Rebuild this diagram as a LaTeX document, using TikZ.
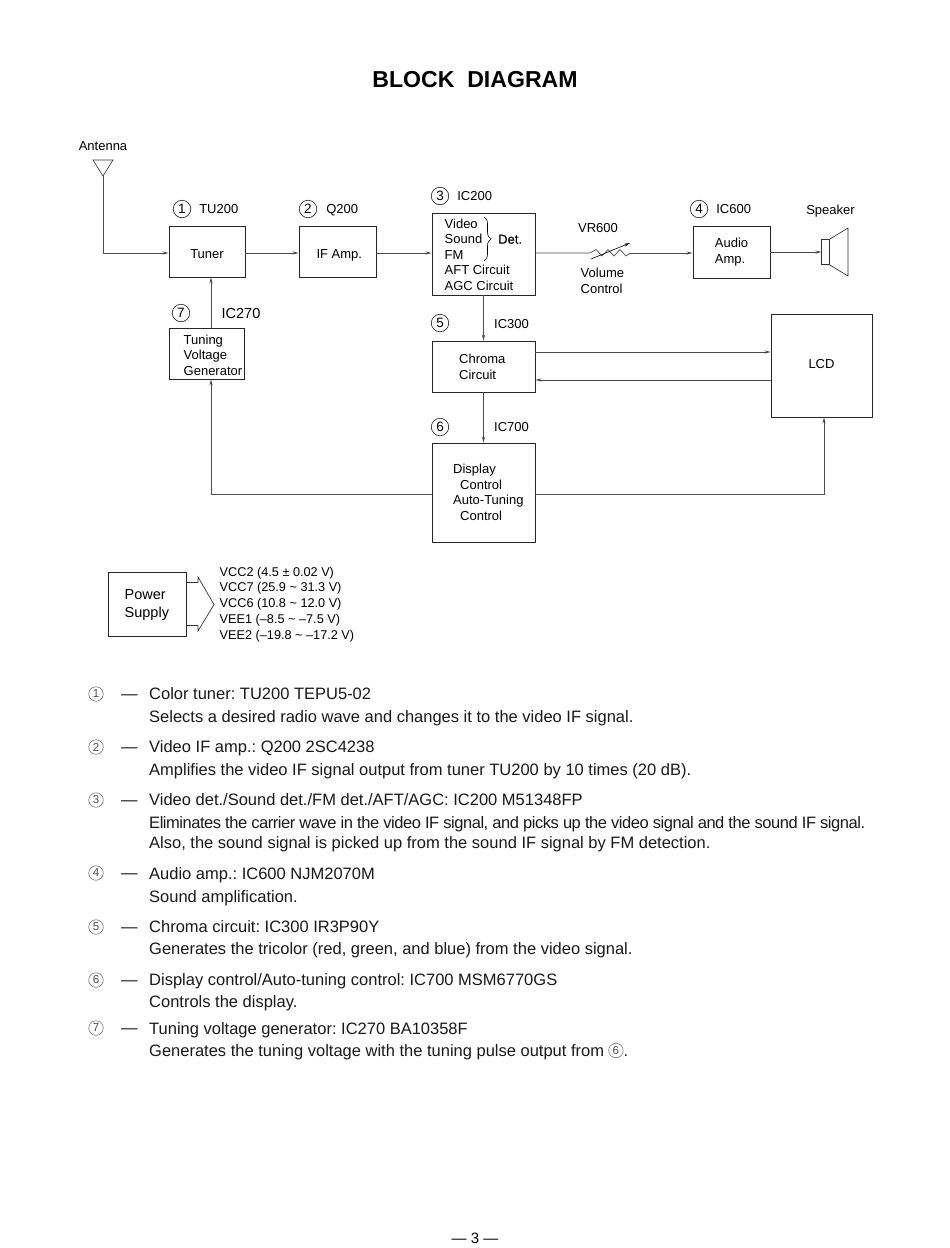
\documentclass[tikz,border=0pt]{standalone}
\usepackage{fontspec}
\setmainfont{Liberation Sans}
\usepackage{tikz}
\usetikzlibrary{positioning, arrows.meta, decorations.pathreplacing}

\begin{document}
\begin{tikzpicture}[
        x=1pt, y=-1pt,
        box/.style = {draw=black!85, rectangle, line width=0.9pt, inner sep=0pt, align=left, font=\fontsize{13}{15.5}\selectfont},
        lowtext/.style = {text height=14pt, text depth=0pt},
        lbl/.style = {inner sep=0pt, align=left, font=\fontsize{13}{15.5}\selectfont},
        tag/.style = {lbl, text height=9.4pt, text depth=0pt},
        num/.style = {draw=black!80, circle, line width=0.7pt, inner sep=0pt, minimum size=17.5pt, font=\fontsize{13.5}{15}\selectfont},
        listnum/.style = {draw=black!55, circle, line width=0.6pt, inner sep=0pt, minimum size=14.5pt, text=black!70, font=\fontsize{11.5}{12}\selectfont},
        txt/.style = {anchor=base west, inner sep=0pt, text=black!90, font=\fontsize{16.5}{18}\selectfont\frenchspacing},
        arrow/.style = {-{Stealth[length=6pt, width=3.2pt]}, line width=0.7pt, draw=black!70},
        wire/.style = {line width=0.7pt, draw=black!70}
      ]
      \useasboundingbox (0,0) rectangle (950,1248);

      % ================= TITLE =================
      \node[inner sep=0pt, font=\bfseries\fontsize{23.1}{26}\selectfont] (title) at (475,80) {BLOCK\ \ DIAGRAM};

      % ================= BLOCKS =================
      \node[box, lowtext, minimum width=76pt, minimum height=51pt] (tuner) at (207,251.5) {Tuner};
      \node[box, lowtext, minimum width=77pt, minimum height=51pt] (ifamp) at (337.5,251.5) {\ IF Amp.};
      \node[box, minimum width=103pt, minimum height=82pt] (ic200) at (483.5,254) {};
      \node[box, minimum width=77pt, minimum height=52pt] (audio) at (731.5,252) {Audio\\Amp.};
      \node[box, minimum width=75pt, minimum height=51pt] (tvg) at (206.5,353.5) {};
      \node[box, minimum width=103pt, minimum height=51pt] (chroma) at (483.5,366.5) {};
      \node[box, minimum width=103pt, minimum height=99pt] (display) at (483.5,492.5) {};
      \node[box, text height=9.4pt, text depth=4pt, minimum width=101pt, minimum height=103pt] (lcd) at (821.5,365.5) {LCD};
      \node[box, minimum width=78pt, minimum height=64pt] (power) at (147,604) {};

      % Text of the blocks
      \node[lbl, anchor=west] (tvgtext) at (183.5,355) {Tuning\\Voltage\\Generator};
      \node[lbl, anchor=west] (ic200text) at (444.5,254.5) {Video\\Sound\\FM\\AFT Circuit\\AGC Circuit};
      \node[tag, anchor=west] (det) at (498,239) {\addfontfeature{FakeBold=0.6}Det.};
      \node[lbl, anchor=west] (chromatext) at (459,367) {Chroma\\Circuit};
      \node[lbl, anchor=west] (displaytext) at (453,492.5) {Display\\\hspace{7pt}Control\\Auto-Tuning\\\hspace{7pt}Control};
      \node[lbl, anchor=west, font=\fontsize{14.5}{18.5}\selectfont] (powertext) at (124.5,605) {Power\\Supply};
      \draw[line width=0.6pt, decorate, decoration={brace, amplitude=7pt}] (484,217) -- (484,261);

      % ================= LABELS =================
      \node[num] (n1) at (182,209) {1};
      \node[tag, right=8pt of n1] (tu200) {TU200};
      \node[num] (n2) at (308,209) {2};
      \node[tag, right=9pt of n2] (q200) {Q200};
      \node[num] (n3) at (440,196) {3};
      \node[tag, right=8pt of n3] (ic200lbl) {IC200};
      \node[num] (n4) at (699,209) {4};
      \node[tag, right=8pt of n4] (ic600) {IC600};
      \node[num] (n5) at (440,323) {5};
      \node[tag] (ic300) at (511.5,324) {IC300};
      \node[num] (n6) at (440,427) {6};
      \node[tag] (ic700) at (511.5,427) {IC700};
      \node[num] (n7) at (181,313) {7};
      \node[lbl, font=\fontsize{14.5}{16}\selectfont] (ic270) at (241,314) {IC270};
      \node[tag] (antenna) at (103,145.5) {Antenna};
      \node[tag] (speaker) at (830.5,210) {Speaker};
      \node[tag] (vr600) at (598,228) {VR600};
      \node[lbl, anchor=west] (volume) at (580.5,281) {Volume\\Control};

      % ================= ANTENNA =================
      \coordinate (ant) at (103,176);
      \draw[line width=0.6pt, draw=black!80] (93,160) -- (113,160) -- (ant) -- cycle;
      \draw[arrow] (ant) |- ([yshift=-1.5pt]tuner.west);

      % ================= SIGNAL PATH =================
      \draw[arrow] ([yshift=-1.5pt]tuner.east) -- ([yshift=-1.5pt]ifamp.west);
      \draw[arrow] ([yshift=-1.5pt]ifamp.east) -- ([yshift=-1.5pt]ifamp.east -| ic200.west);
      \draw[arrow] ([xshift=4.5pt]tvg.north) -- ([xshift=4.5pt]tvg.north |- tuner.south);

      % Volume control
      \coordinate (vrin) at (590,253);
      \coordinate (vrout) at (630,253);
      \draw[wire] (ic200.east |- vrin) -- (vrin) -- (596,249.5) -- (602,256) -- (608,249.5) -- (614,256) -- (620,249.5) -- (626,256) -- (vrout);
      \draw[arrow] (vrout) -- (vrout -| audio.west);
      \draw[-{Stealth[length=6pt, width=3pt]}, line width=0.6pt] (591,259) -- (630,243);

      % Speaker
      \node[draw=black!80, rectangle, line width=0.7pt, inner sep=0pt, minimum width=7.5pt, minimum height=25pt] (spk) at (825.5,252) {};
      \draw[line width=0.7pt, draw=black!80] (spk.north east) -- (848,228) -- (848,276) -- (spk.south east);
      \draw[arrow] (audio.east) -- (spk.west);

      % Chroma and display
      \draw[arrow] (ic200.south) -- (chroma.north);
      \draw[arrow] (chroma.south) -- (display.north);
      \draw[arrow] ([yshift=14.5pt]chroma.east) -- ([yshift=14.5pt]chroma.east -| lcd.west);
      \draw[arrow] ([yshift=-13.5pt]chroma.east -| lcd.west) -- ([yshift=-13.5pt]chroma.east);
      \draw[arrow] ([yshift=-2pt]display.west) -| ([xshift=4.5pt]tvg.south);
      \draw[arrow] ([yshift=-2pt]display.east) -| ([xshift=2.5pt]lcd.south);

      % ================= POWER SUPPLY =================
      \coordinate (pwrtop) at ([yshift=21.5pt]power.east);
      \coordinate (pwrbot) at ([yshift=-21.5pt]power.east);
      \draw[line width=0.7pt, draw=black!80] (pwrtop) -- (198,582.5) -- (198,577) -- (214,604.5) -- (198,631) -- (198,625.5) -- (pwrbot);
      \node[lbl, anchor=west, font=\fontsize{12.7}{15.8}\selectfont] (rails) at (219.5,604.5) {VCC2 (4.5 ± 0.02 V)\\VCC7 (25.9 \textasciitilde{} 31.3 V)\\VCC6 (10.8 \textasciitilde{} 12.0 V)\\VEE1 (–8.5 \textasciitilde{} –7.5 V)\\VEE2 (–19.8 \textasciitilde{} –17.2 V)};

      % ================= DESCRIPTIONS =================
      \foreach \id/\row/\tagno in {a/694/1, b/747/2, c/800/3, d/873/4, e/927/5, f/980/6, g/1028/7} {
        \node[listnum] (num\id) at (96,\row) {\tagno};
        \node[txt] (dash\id) at (121,\row+5) {—};
      }
      \foreach \id/\row/\line in {
        a/699/{Color tuner: TU200 TEPU5-02},
        b/722/{Selects a desired radio wave and changes it to the video IF signal.},
        c/752/{Video IF amp.: Q200 2SC4238},
        d/775/{Amplifies the video IF signal output from tuner TU200 by 10 times (20 dB).},
        e/805/{Video det./Sound det./FM det./AFT/AGC: IC200 M51348FP},
        f/828/{\addfontfeature{LetterSpace=-2.8}Eliminates the carrier wave in the video IF signal, and picks up the video signal and the sound IF signal.},
        g/848/{Also, the sound signal is picked up from the sound IF signal by FM detection.},
        h/879/{Audio amp.: IC600 NJM2070M},
        i/902/{Sound amplification.},
        j/932/{Chroma circuit: IC300 IR3P90Y},
        k/954/{Generates the tricolor (red, green, and blue) from the video signal.},
        l/985/{Display control/Auto-tuning control: IC700 MSM6770GS},
        m/1007/{Controls the display.},
        n/1034/{Tuning voltage generator: IC270 BA10358F},
        o/1056/{Generates the tuning voltage with the tuning pulse output from}} {
        \node[txt] (line\id) at (149,\row) {\line};
      }
      \node[listnum, anchor=west] (numref) at ([xshift=4pt,yshift=5.5pt]lineo.base east) {6};
      \node[txt] (stop) at (numref.east |- lineo.base) {.};

      % ================= PAGE NUMBER =================
      \node[inner sep=0pt, font=\fontsize{15}{18}\selectfont] (page) at (475,1238) {— 3 —};

    \end{tikzpicture}
\end{document}
